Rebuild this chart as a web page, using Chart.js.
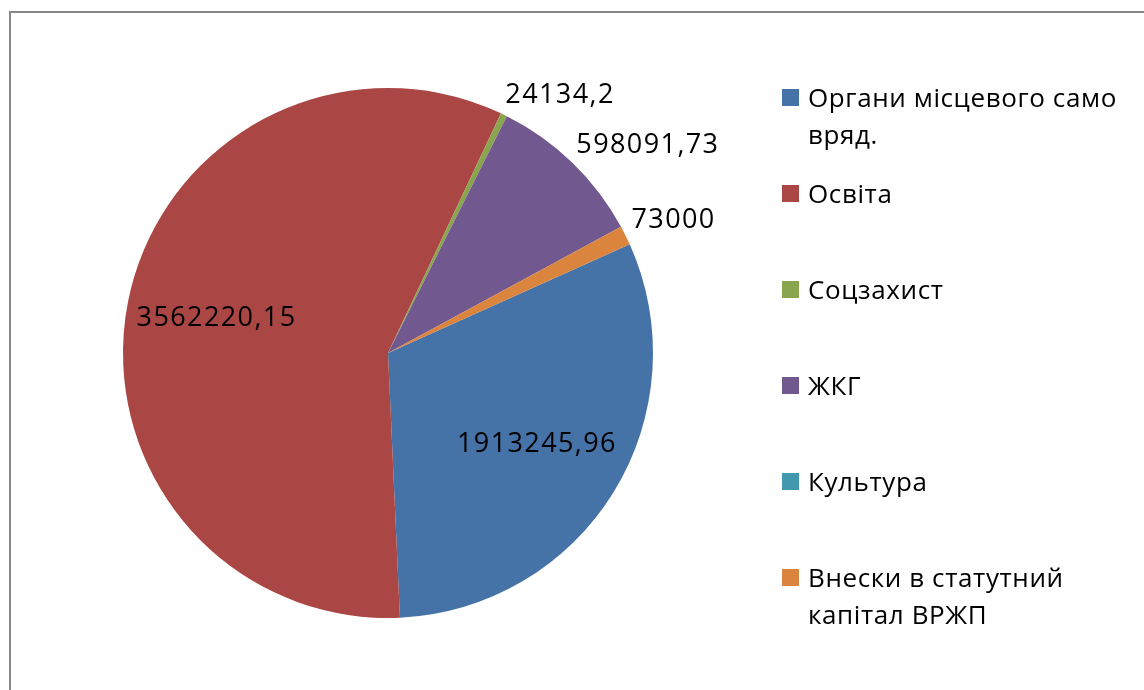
<!DOCTYPE html>
<html>
<head>
<meta charset="utf-8">
<script src="https://cdn.jsdelivr.net/npm/chart.js@4"></script>
<style>
  html, body { margin: 0; padding: 0; background: #fff; }
  #wrap { position: relative; width: 1144px; height: 690px; overflow: hidden; }
  #frame { position: absolute; left: 9px; top: 11px; width: 1200px; height: 700px; border: 2px solid #888; box-sizing: border-box; }
  #chart { position: absolute; left: 0; top: 0; }
  #legend { position: absolute; left: 782px; top: 79px; width: 360px; font-family: "Open Sans", sans-serif; font-size: 26px; letter-spacing: 0.6px; color: #000; }
  #legend .item { height: 96px; display: flex; align-items: flex-start; }
  #legend .box { width: 17px; height: 17px; margin-top: 10px; margin-right: 9px; flex: none; }
  #legend .txt { line-height: 37px; white-space: nowrap; }
</style>
</head>
<body>
<div id="wrap">
  <div id="frame"></div>
  <div id="chart"><canvas id="pie" width="1144" height="690"></canvas></div>
  <div id="legend"></div>
</div>
<script>
// categories and values
const categories = ['Органи місцевого само вряд.', 'Освіта', 'Соцзахист', 'ЖКГ', 'Культура', 'Внески в статутний капітал ВРЖП'];
const legendLines = [['Органи місцевого само', 'вряд.'], ['Освіта'], ['Соцзахист'], ['ЖКГ'], ['Культура'], ['Внески в статутний', 'капітал ВРЖП']];
const values = [1913245.96, 3562220.15, 24134.2, 598091.73, 0, 73000];
const colors = ['#4572A7', '#AA4643', '#89A54E', '#71588F', '#4198AF', '#DB843D'];

// html legend
const legend = document.getElementById('legend');
legendLines.forEach((lines, i) => {
	const item = document.createElement('div');
	item.className = 'item';
	const box = document.createElement('div');
	box.className = 'box';
	box.style.background = colors[i];
	const txt = document.createElement('div');
	txt.className = 'txt';
	txt.innerHTML = lines.join('<br>');
	item.appendChild(box);
	item.appendChild(txt);
	legend.appendChild(item);
});

// value labels, inside for big slices, outside for small ones
const sliceLabels = {
	id: 'sliceLabels',
	afterDatasetsDraw(chart) {
		const ctx = chart.ctx;
		const meta = chart.getDatasetMeta(0);
		const total = values.reduce((a, b) => a + b, 0);
		ctx.save();
		ctx.font = '27px "Open Sans", sans-serif';
		ctx.letterSpacing = '1.4px';
		ctx.fillStyle = '#000';
		meta.data.forEach((arc, i) => {
			const v = values[i];
			if (!v) return;
			const p = arc.getProps(['x', 'y', 'startAngle', 'endAngle', 'outerRadius']);
			const mid = (p.startAngle + p.endAngle) / 2;
			const text = String(v).replace('.', ',');
			if (v / total > 0.15) {
				const r = p.outerRadius * 0.66;
				ctx.textAlign = 'center';
				ctx.textBaseline = 'middle';
				ctx.fillText(text, p.x + Math.cos(mid) * r, p.y + Math.sin(mid) * r);
			} else {
				const r = p.outerRadius + 10;
				ctx.textAlign = 'left';
				ctx.textBaseline = 'bottom';
				ctx.fillText(text, p.x + Math.cos(mid) * r - 3, p.y + Math.sin(mid) * r + 3);
			}
		});
		ctx.restore();
	}
};

new Chart(document.getElementById('pie'), {
	type: 'pie',
	data: {
		labels: categories,
		datasets: [{
			data: values,
			backgroundColor: colors,
			borderWidth: 0
		}]
	},
	options: {
		responsive: false,
		animation: false,
		rotation: 65.8,
		layout: { padding: { left: 123, right: 491, top: 88, bottom: 72 } },
		plugins: {
			legend: { display: false },
			tooltip: { enabled: false }
		}
	},
	plugins: [sliceLabels]
});
</script>
</body>
</html>
